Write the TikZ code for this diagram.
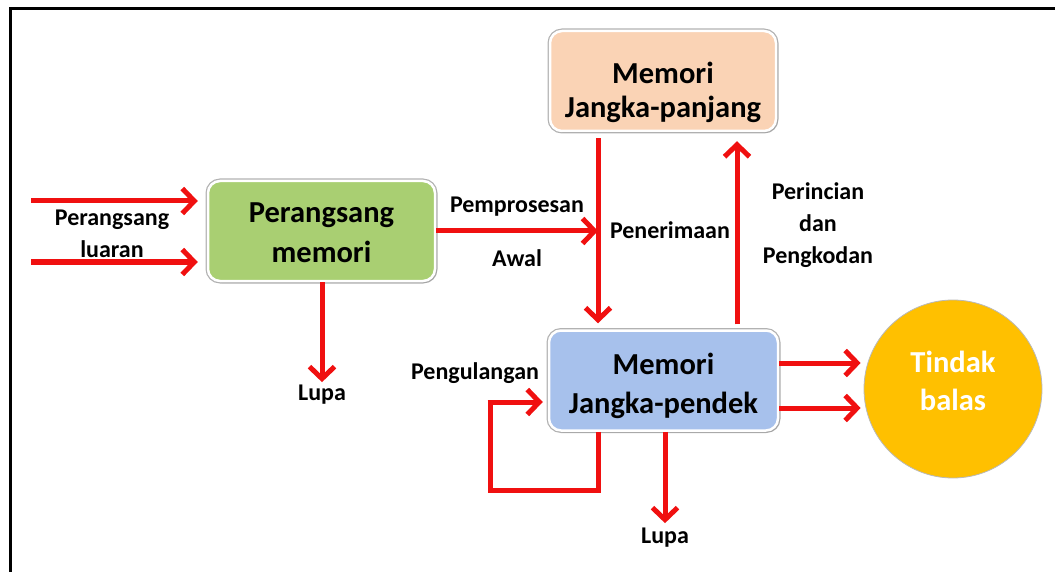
\documentclass[tikz,border=0pt]{standalone}
\usepackage{fontspec}
\setmainfont{Carlito}
\usetikzlibrary{arrows.meta,shadows}

\definecolor{boxgreen}{HTML}{A9CF72}
\definecolor{boxpeach}{HTML}{FAD3B5}
\definecolor{boxblue}{HTML}{A7C1EC}
\definecolor{respgold}{HTML}{FFC000}
\definecolor{arrowred}{HTML}{F01010}

\tikzset{
  stagebox/.style={rectangle, rounded corners=12pt, minimum width=#1, minimum height=100pt,
    inner sep=0pt, draw=white, line width=2.5pt,
    preaction={draw=gray!60, line width=5pt},
    drop shadow={opacity=0.25, shadow xshift=2pt, shadow yshift=-2pt}},
  stagetext/.style={align=center, inner sep=0pt, font=\fontsize{30.5}{#1}\selectfont\bfseries},
  flowlabel/.style={align=center, font=\fontsize{24}{32}\selectfont\bfseries, inner sep=1pt},
  flow/.style={draw=arrowred, line width=5pt, -{Straight Barb[length=12pt,width=25pt]}},
  loopline/.style={draw=arrowred, line width=5pt},
}

\begin{document}
\begin{tikzpicture}[x=1pt,y=-1pt]
  \useasboundingbox (0,0) rectangle (1055,572);

  % frame along top and left edges
  \draw[line width=3.5pt] (10.5,572) -- (10.5,8.5) -- (1055,8.5);

  % stages
  \node[stagebox=227pt, fill=boxgreen] (stim) at (321.5,231) {};
  \node[stagebox=226pt, fill=boxpeach] (ltm) at (663,81) {};
  \node[stagebox=229pt, fill=boxblue] (stm) at (663.5,380.5) {};
  \node[circle, minimum size=178pt, inner sep=0pt, fill=respgold, draw=gray!55, line width=0.8pt] (resp) at (953,389) {};

  % stage titles
  \node[stagetext=40] (stimtext) at (321.5,233) {Perangsang\\memori};
  \node[stagetext=34] (ltmtext) at (663,92) {Memori\\Jangka-panjang};
  \node[stagetext=39] (stmtext) at (663.5,386) {Memori\\Jangka-pendek};
  \node[stagetext=38, text=white] (resptext) at (953,381) {Tindak\\balas};

  % labels
  \node[flowlabel] (lblin) at (112,234) {Perangsang\\luaran};
  \node[flowlabel] (lblpro) at (517,207) {Pemprosesan};
  \node[flowlabel] (lblawal) at (517,258) {Awal};
  \node[flowlabel] (lblret) at (670,230) {Penerimaan};
  \node[flowlabel] (lblenc) at (818,225) {Perincian\\dan\\Pengkodan};
  \node[flowlabel] (lblrep) at (475,373) {Pengulangan};
  \node[flowlabel] (lupa1) at (322,395) {Lupa};
  \node[flowlabel] (lupa2) at (665,538) {Lupa};

  % helper coordinates
  \coordinate (inA) at (31,201);
  \coordinate (inB) at (31,262);
  \coordinate (retx) at (598,0);
  \coordinate (encx) at (737,0);
  \coordinate (outA) at (0,363);
  \coordinate (outB) at (0,408);
  \coordinate (lupax) at (322,0);
  \coordinate (lupay) at (665,0);
  \coordinate (loopA) at (598,490);
  \coordinate (loopB) at (490,490);
  \coordinate (loopC) at (490,402);

  % external stimuli
  \draw[flow, shorten >=9pt] (inA) -- (inA -| stim.west);
  \draw[flow, shorten >=9pt] (inB) -- (inB -| stim.west);

  % processing paths
  \draw[flow] (stim.east) -- (stim.east -| retx);
  \draw[flow, shorten <=6pt, shorten >=6pt] (ltm.south -| retx) -- (stm.north -| retx);
  \draw[flow, shorten <=5pt, shorten >=9pt] (stm.north -| encx) -- (ltm.south -| encx);
  \draw[flow, shorten >=2pt] (stim.south -| lupax) -- (lupa1.north);
  \draw[flow, shorten >=4pt] (stm.south -| lupay) -- (lupa2.north);

  % responses
  \draw[flow, shorten >=3pt] (stm.east |- outA) -- (resp.west |- outA);
  \draw[flow, shorten >=3pt] (stm.east |- outB) -- (resp.west |- outB);

  % rehearsal loop
  \draw[loopline] (stm.south -| loopA) -- (loopA) -- (loopB) -- (loopC);
  \draw[flow, shorten >=5pt] ([xshift=-2.5pt]loopC) -- (stm.west |- loopC);
\end{tikzpicture}
\end{document}
